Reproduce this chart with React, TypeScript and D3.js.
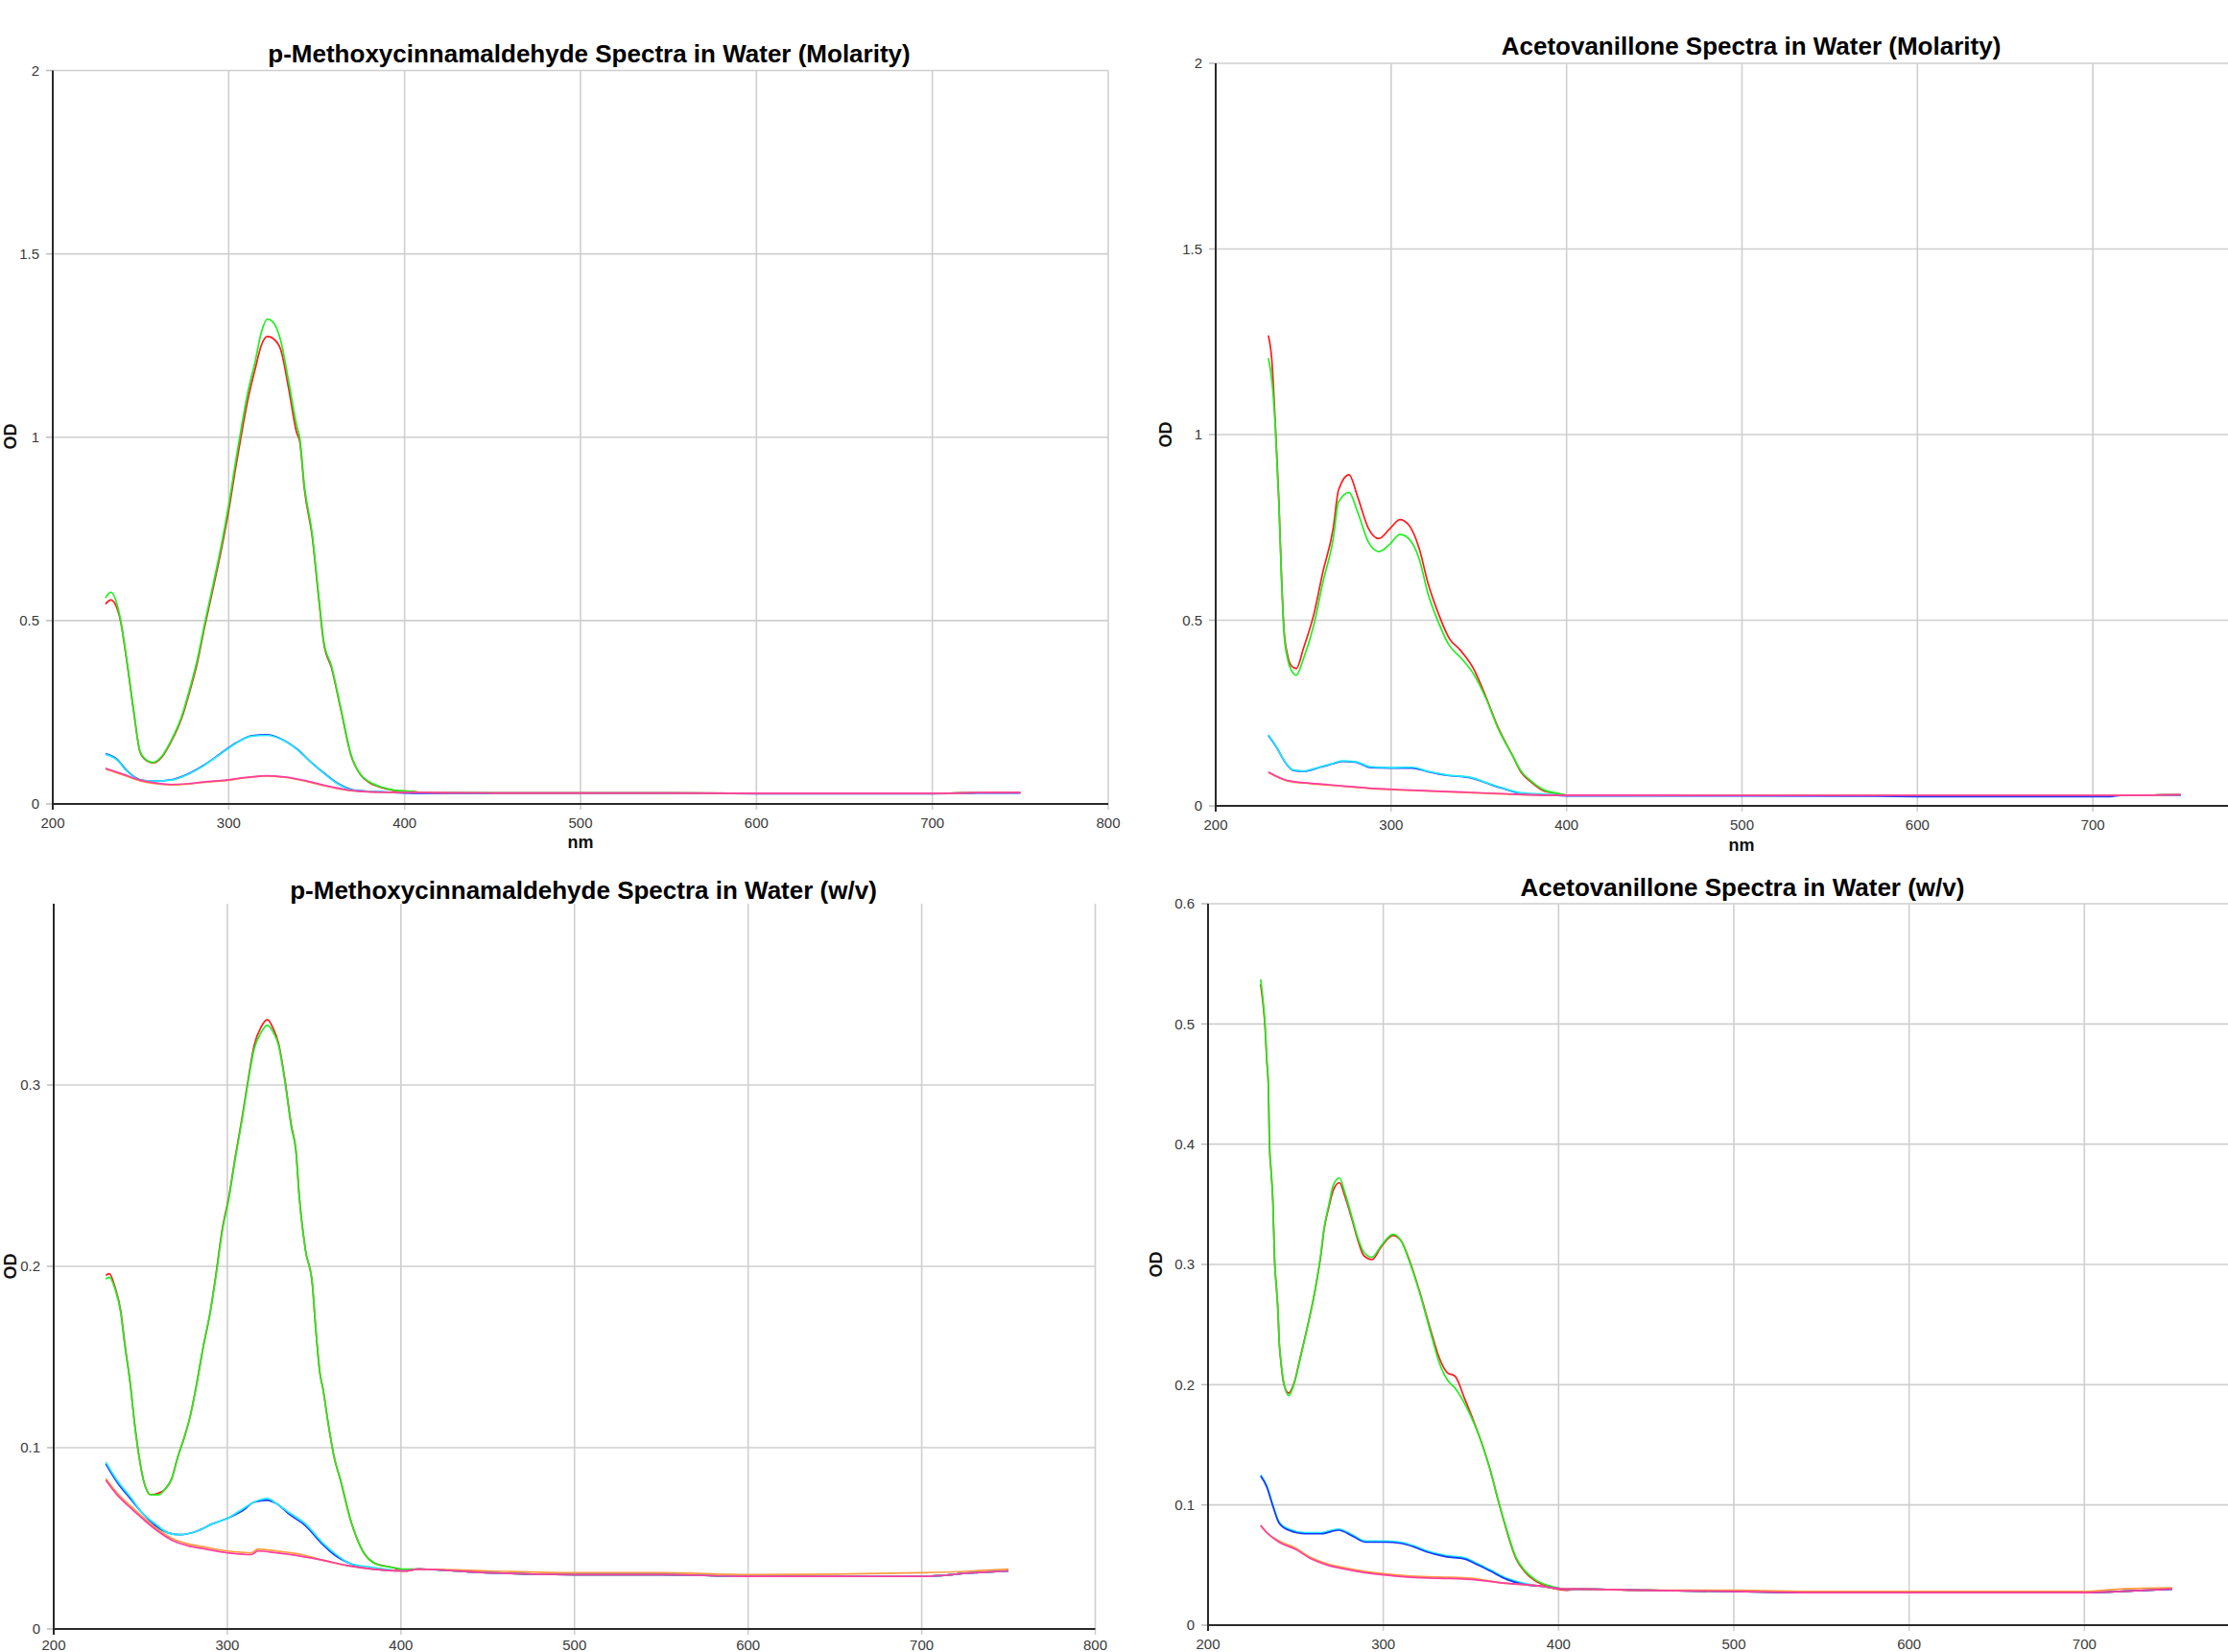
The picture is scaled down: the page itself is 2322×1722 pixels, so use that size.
import React from 'react';
import * as d3 from 'd3';

type Pt = [number, number];

// axis ticks
const xTicks = [200, 300, 400, 500, 600, 700, 800];
const yTicksMolar = [0, 0.5, 1, 1.5, 2];
const yTicksPmcWv = [0, 0.1, 0.2, 0.3];
const yTicksAvWv = [0, 0.1, 0.2, 0.3, 0.4, 0.5, 0.6];

// ---- p-Methoxycinnamaldehyde, molarity ----
const pmcMolTail: Pt[] = [[410, 0.031], [450, 0.030], [500, 0.030], [600, 0.029], [700, 0.029], [730, 0.031], [750, 0.031]];
const pmcMolBlueTail: Pt[] = [[410, 0.029], [450, 0.029], [500, 0.029], [600, 0.028], [700, 0.028], [730, 0.030], [750, 0.030]];
const pmcMolGreen: Pt[] = [[230, 0.562], [233, 0.577], [238, 0.515], [242, 0.395], [246, 0.255], [249.5, 0.145], [252, 0.125], [257, 0.113], [262, 0.13], [267.5, 0.175], [273, 0.235], [278.5, 0.325], [282, 0.39], [286.5, 0.495], [291, 0.595], [296, 0.71], [300, 0.815], [304, 0.935], [307.5, 1.035], [311, 1.125], [315, 1.205], [318.5, 1.285], [322, 1.322], [325, 1.315], [329.5, 1.265], [334, 1.155], [338.5, 1.035], [340.5, 0.995], [343, 0.87], [347.5, 0.735], [351, 0.575], [354, 0.445], [358.5, 0.375], [364, 0.255], [369.5, 0.135], [375, 0.08], [380, 0.06], [387.5, 0.045], [395, 0.037], [405, 0.034]];
const pmcMolRed: Pt[] = [[230, 0.545], [233, 0.556], [238, 0.51], [242, 0.392], [246, 0.252], [249.5, 0.143], [252, 0.123], [257, 0.112], [262, 0.128], [267.5, 0.172], [273, 0.23], [278.5, 0.318], [282, 0.382], [286.5, 0.487], [291, 0.585], [296, 0.698], [300, 0.8], [304, 0.918], [307.5, 1.015], [311, 1.105], [315, 1.185], [318.5, 1.25], [322, 1.275], [325, 1.27], [329.5, 1.24], [334, 1.135], [338.5, 1.015], [340.5, 0.985], [343, 0.86], [347.5, 0.728], [351, 0.57], [354, 0.44], [358.5, 0.37], [364, 0.252], [369.5, 0.133], [375, 0.079], [380, 0.058], [387.5, 0.044], [395, 0.036], [405, 0.034]];
const pmcMolCyan: Pt[] = [[230, 0.135], [236.5, 0.12], [242, 0.09], [249.5, 0.065], [257, 0.062], [267.5, 0.065], [276.5, 0.08], [286, 0.105], [295, 0.135], [304, 0.165], [313, 0.185], [322, 0.187], [329.5, 0.177], [338.5, 0.15], [347.5, 0.11], [355, 0.08], [362, 0.055], [371, 0.037], [386, 0.033]];
const pmcMolBlue: Pt[] = [[230, 0.137], [236.5, 0.122], [242, 0.091], [249.5, 0.066], [257, 0.062], [267.5, 0.066], [276.5, 0.081], [286, 0.106], [295, 0.136], [304, 0.166], [313, 0.186], [322, 0.189], [329.5, 0.178], [338.5, 0.151], [347.5, 0.111], [355, 0.081], [362, 0.056], [371, 0.038], [386, 0.033]];
const pmcMolOrange: Pt[] = [[230, 0.095], [240.5, 0.078], [249.5, 0.063], [258.5, 0.055], [267.5, 0.052], [276.5, 0.054], [286, 0.059], [298.5, 0.064], [311, 0.072], [322, 0.076], [333, 0.072], [344, 0.062], [355, 0.049], [369.5, 0.036], [386, 0.032]];
const pmcMolPink: Pt[] = [[230, 0.097], [240.5, 0.08], [249.5, 0.065], [258.5, 0.057], [267.5, 0.053], [276.5, 0.055], [286, 0.06], [298.5, 0.065], [311, 0.073], [322, 0.077], [333, 0.073], [344, 0.063], [355, 0.05], [369.5, 0.037], [386, 0.032]];

// ---- Acetovanillone, molarity ----
const avMolTail: Pt[] = [[400, 0.029], [500, 0.028], [600, 0.028], [700, 0.028], [735, 0.029], [750, 0.030]];
const avMolBlueTail: Pt[] = [[400, 0.027], [500, 0.027], [570, 0.026], [600, 0.025], [710, 0.025], [716, 0.028], [750, 0.029]];
const avMolRed: Pt[] = [[230, 1.267], [232, 1.2], [234, 1.026], [236, 0.822], [237.5, 0.619], [239, 0.47], [241, 0.405], [243, 0.378], [246, 0.37], [250, 0.424], [256, 0.517], [261, 0.628], [267, 0.748], [270, 0.85], [276, 0.892], [281, 0.831], [287, 0.748], [293, 0.72], [299.5, 0.748], [305, 0.771], [310, 0.757], [316, 0.693], [321, 0.6], [327, 0.517], [333, 0.452], [339.5, 0.419], [347, 0.369], [354, 0.294], [361, 0.211], [369, 0.137], [374, 0.091], [380, 0.063], [387, 0.04], [396, 0.032]];
const avMolGreen: Pt[] = [[230, 1.206], [232, 1.146], [234, 1.02], [236, 0.815], [237.5, 0.612], [239, 0.462], [241, 0.396], [243, 0.366], [246, 0.352], [250, 0.396], [256, 0.489], [261, 0.6], [267, 0.72], [270, 0.818], [276, 0.844], [281, 0.79], [287, 0.711], [293, 0.685], [299.5, 0.706], [305, 0.731], [310, 0.72], [316, 0.665], [321, 0.572], [327, 0.494], [333, 0.433], [339.5, 0.4], [347, 0.355], [354, 0.29], [361, 0.208], [369, 0.137], [374, 0.094], [380, 0.066], [387, 0.043], [396, 0.033]];
const avMolCyan: Pt[] = [[230, 0.191], [235, 0.156], [239.5, 0.119], [244, 0.097], [250, 0.094], [259.5, 0.105], [266.5, 0.114], [272, 0.121], [279.5, 0.119], [288.5, 0.105], [299.5, 0.103], [312, 0.104], [321, 0.093], [332, 0.083], [345, 0.077], [354, 0.063], [363, 0.049], [374, 0.035], [390, 0.031]];
const avMolBlue: Pt[] = [[230, 0.19], [235, 0.155], [239.5, 0.118], [244, 0.096], [250, 0.093], [259.5, 0.104], [266.5, 0.113], [272, 0.12], [279.5, 0.118], [288.5, 0.103], [299.5, 0.102], [312, 0.102], [321, 0.092], [332, 0.082], [345, 0.076], [354, 0.062], [363, 0.048], [374, 0.034], [390, 0.029]];
const avMolOrange: Pt[] = [[230, 0.09], [241, 0.067], [254, 0.06], [272, 0.053], [290, 0.046], [308.5, 0.042], [336, 0.037], [363, 0.032], [390, 0.029]];
const avMolPink: Pt[] = [[230, 0.091], [241, 0.068], [254, 0.061], [272, 0.054], [290, 0.047], [308.5, 0.043], [336, 0.038], [363, 0.033], [390, 0.029]];

// ---- p-Methoxycinnamaldehyde, w/v ----
const pmcWvTail: Pt[] = [[410, 0.033], [450, 0.031], [500, 0.030], [550, 0.030], [600, 0.029], [700, 0.029], [730, 0.031], [750, 0.032]];
const pmcWvOrangeTail: Pt[] = [[410, 0.033], [450, 0.032], [500, 0.031], [550, 0.031], [600, 0.030], [700, 0.031], [730, 0.032], [750, 0.033]];
const pmcWvGreen: Pt[] = [[230, 0.193], [232, 0.194], [235.5, 0.187], [238.5, 0.175], [241, 0.156], [244, 0.136], [246.5, 0.114], [249.5, 0.093], [252, 0.081], [256, 0.074], [260.5, 0.074], [264, 0.077], [268, 0.083], [271.5, 0.095], [275, 0.105], [279, 0.119], [282.5, 0.136], [286, 0.155], [290, 0.174], [293.5, 0.195], [297, 0.219], [301, 0.238], [304.5, 0.259], [308.5, 0.281], [312, 0.302], [315.5, 0.32], [319.5, 0.329], [323, 0.333], [326.5, 0.329], [329.5, 0.322], [333, 0.303], [337, 0.276], [339.5, 0.264], [341.5, 0.238], [345, 0.209], [349, 0.19], [350.5, 0.171], [353.5, 0.14], [355, 0.133], [358, 0.114], [361.5, 0.095], [365.5, 0.081], [371, 0.06], [378, 0.043], [385.5, 0.036], [395, 0.034], [402, 0.033]];
const pmcWvRed: Pt[] = [[230, 0.195], [232, 0.196], [235.5, 0.188], [238.5, 0.176], [241, 0.157], [244, 0.136], [246.5, 0.114], [249.5, 0.093], [252, 0.081], [256, 0.074], [260.5, 0.075], [264, 0.077], [268, 0.083], [271.5, 0.095], [275, 0.105], [279, 0.119], [282.5, 0.136], [286, 0.155], [290, 0.174], [293.5, 0.196], [297, 0.22], [301, 0.239], [304.5, 0.26], [308.5, 0.282], [312, 0.303], [315.5, 0.322], [319.5, 0.332], [323, 0.336], [326.5, 0.331], [329.5, 0.323], [333, 0.304], [337, 0.277], [339.5, 0.264], [341.5, 0.238], [345, 0.209], [349, 0.19], [350.5, 0.171], [353.5, 0.14], [355, 0.133], [358, 0.114], [361.5, 0.095], [365.5, 0.081], [371, 0.06], [378, 0.043], [385.5, 0.036], [395, 0.034], [402, 0.032]];
const pmcWvCyan: Pt[] = [[230, 0.092], [236.5, 0.082], [244, 0.073], [251, 0.064], [258.5, 0.058], [266, 0.053], [273, 0.052], [282.5, 0.054], [291.5, 0.058], [300, 0.061], [308.5, 0.066], [315.5, 0.07], [323, 0.072], [328.5, 0.069], [336, 0.064], [345, 0.058], [354.5, 0.048], [361.5, 0.042], [371, 0.036], [384, 0.034], [402, 0.032]];
const pmcWvBlue: Pt[] = [[230, 0.091], [236.5, 0.081], [244, 0.072], [251, 0.064], [258.5, 0.057], [266, 0.053], [273, 0.052], [282.5, 0.054], [291.5, 0.058], [300, 0.061], [308.5, 0.065], [315.5, 0.07], [323, 0.071], [328.5, 0.069], [336, 0.063], [345, 0.057], [354.5, 0.047], [361.5, 0.041], [371, 0.036], [384, 0.033], [402, 0.032]];
const pmcWvOrange: Pt[] = [[230, 0.083], [236.5, 0.075], [244, 0.068], [251, 0.062], [258.5, 0.056], [268, 0.05], [277, 0.047], [288, 0.045], [300, 0.043], [314, 0.042], [317.5, 0.044], [328.5, 0.043], [343, 0.041], [354.5, 0.038], [369, 0.035], [384, 0.033], [402, 0.032]];
const pmcWvPink: Pt[] = [[230, 0.082], [236.5, 0.074], [244, 0.067], [251, 0.061], [258.5, 0.055], [268, 0.049], [277, 0.046], [288, 0.044], [300, 0.042], [314, 0.041], [317.5, 0.043], [328.5, 0.042], [343, 0.04], [354.5, 0.038], [369, 0.035], [384, 0.033], [402, 0.032]];

// ---- Acetovanillone, w/v ----
const avWvTail: Pt[] = [[410, 0.030], [450, 0.029], [500, 0.028], [550, 0.027], [600, 0.027], [700, 0.027], [720, 0.028], [750, 0.030]];
const avWvOrangeTail: Pt[] = [[410, 0.030], [450, 0.029], [500, 0.029], [550, 0.028], [600, 0.028], [700, 0.028], [720, 0.030], [750, 0.031]];
const avWvGreen: Pt[] = [[230, 0.537], [231.5, 0.518], [232.5, 0.5], [233.5, 0.471], [234.5, 0.446], [235, 0.403], [236, 0.378], [237, 0.353], [238, 0.303], [239, 0.282], [240, 0.259], [240.5, 0.239], [241.5, 0.221], [243.5, 0.2], [246, 0.191], [249, 0.2], [252.5, 0.221], [257, 0.25], [261, 0.278], [264.5, 0.31], [266, 0.328], [269, 0.35], [271.5, 0.366], [275, 0.372], [278, 0.36], [282, 0.34], [285.5, 0.322], [289, 0.31], [293.5, 0.306], [299, 0.316], [305.5, 0.325], [310, 0.32], [315.5, 0.3], [321, 0.275], [326.5, 0.246], [332, 0.218], [336.5, 0.204], [341, 0.197], [346.5, 0.184], [352, 0.167], [356.5, 0.15], [361, 0.129], [365.5, 0.104], [370.5, 0.079], [375.5, 0.057], [381, 0.045], [386.5, 0.038], [394, 0.033], [405, 0.030]];
const avWvRed: Pt[] = [[230, 0.533], [231.5, 0.515], [232.5, 0.498], [233.5, 0.47], [234.5, 0.445], [235, 0.402], [236, 0.377], [237, 0.352], [238, 0.302], [239, 0.281], [240, 0.258], [240.5, 0.238], [241.5, 0.22], [243.5, 0.199], [246, 0.193], [249, 0.201], [252.5, 0.222], [257, 0.25], [261, 0.278], [264.5, 0.309], [266, 0.327], [269, 0.348], [271.5, 0.362], [275, 0.368], [278, 0.357], [282, 0.338], [285.5, 0.32], [289, 0.307], [293.5, 0.304], [299, 0.315], [305.5, 0.324], [310, 0.32], [315.5, 0.301], [321, 0.276], [326.5, 0.248], [332, 0.222], [336.5, 0.21], [341, 0.207], [346.5, 0.188], [352, 0.168], [356.5, 0.15], [361, 0.129], [365.5, 0.104], [370.5, 0.078], [375.5, 0.056], [381, 0.044], [386.5, 0.037], [394, 0.032], [405, 0.029]];
const avWvCyan: Pt[] = [[230, 0.125], [233.5, 0.116], [237, 0.1], [240.5, 0.086], [246, 0.08], [255.5, 0.077], [264.5, 0.077], [274.5, 0.08], [282.5, 0.075], [290, 0.07], [301, 0.07], [310, 0.069], [317.5, 0.066], [324.5, 0.062], [335.5, 0.058], [346.5, 0.056], [354, 0.051], [361, 0.046], [370.5, 0.039], [379.5, 0.035], [392, 0.032], [405, 0.030]];
const avWvBlue: Pt[] = [[230, 0.124], [233.5, 0.115], [237, 0.099], [240.5, 0.085], [246, 0.079], [255.5, 0.076], [264.5, 0.076], [274.5, 0.079], [282.5, 0.074], [290, 0.069], [301, 0.069], [310, 0.068], [317.5, 0.065], [324.5, 0.061], [335.5, 0.057], [346.5, 0.055], [354, 0.05], [361, 0.045], [370.5, 0.038], [379.5, 0.034], [392, 0.032], [405, 0.030]];
const avWvOrange: Pt[] = [[230, 0.083], [233.5, 0.077], [240.5, 0.07], [250, 0.064], [259, 0.056], [268, 0.051], [277, 0.048], [288, 0.045], [299, 0.043], [313.5, 0.041], [332, 0.04], [350, 0.039], [368.5, 0.035], [386.5, 0.033], [405, 0.030]];
const avWvPink: Pt[] = [[230, 0.083], [233.5, 0.077], [240.5, 0.069], [250, 0.063], [259, 0.055], [268, 0.05], [277, 0.047], [288, 0.044], [299, 0.042], [313.5, 0.04], [332, 0.039], [350, 0.038], [368.5, 0.035], [386.5, 0.033], [405, 0.030]];

const colors = {
  red: '#ff1a1a',
  green: '#1ef01e',
  blue: '#1438ff',
  cyan: '#20e8ff',
  orange: '#ff9a3c',
  pink: '#ff3d9e',
};

const FONT = '"Liberation Sans", Arial, sans-serif';
const W = 2322;
const H = 1722;

type Series = { color: string; pts: Pt[] };

type PanelDef = {
  title: string;
  titleX: number;
  titleY: number;
  left: number;
  right: number;
  top: number;
  bottom: number;
  yMax: number;
  yTicks: number[];
  topLine: boolean;
  nm: [number, number] | null;
  od: [number, number];
  series: Series[];
};

const panels: PanelDef[] = [
  {
    title: 'p-Methoxycinnamaldehyde Spectra in Water (Molarity)',
    titleX: 614, titleY: 65,
    left: 55, right: 1155, top: 73.5, bottom: 838,
    yMax: 2, yTicks: yTicksMolar, topLine: true,
    nm: [605, 884], od: [11, 455],
    series: [
      { color: colors.red, pts: pmcMolRed.concat(pmcMolTail) },
      { color: colors.green, pts: pmcMolGreen.concat(pmcMolTail) },
      { color: colors.blue, pts: pmcMolBlue.concat(pmcMolBlueTail) },
      { color: colors.cyan, pts: pmcMolCyan.concat(pmcMolTail) },
      { color: colors.orange, pts: pmcMolOrange.concat(pmcMolTail) },
      { color: colors.pink, pts: pmcMolPink.concat(pmcMolTail) },
    ],
  },
  {
    title: 'Acetovanillone Spectra in Water (Molarity)',
    titleX: 1825, titleY: 57,
    left: 1267, right: 2364, top: 66, bottom: 840,
    yMax: 2, yTicks: yTicksMolar, topLine: true,
    nm: [1815, 887], od: [1215, 453],
    series: [
      { color: colors.red, pts: avMolRed.concat(avMolTail) },
      { color: colors.green, pts: avMolGreen.concat(avMolTail) },
      { color: colors.blue, pts: avMolBlue.concat(avMolBlueTail) },
      { color: colors.cyan, pts: avMolCyan.concat(avMolTail) },
      { color: colors.orange, pts: avMolOrange.concat(avMolTail) },
      { color: colors.pink, pts: avMolPink.concat(avMolTail) },
    ],
  },
  {
    title: 'p-Methoxycinnamaldehyde Spectra in Water (w/v)',
    titleX: 608, titleY: 937,
    left: 56, right: 1141.5, top: 942, bottom: 1698,
    yMax: 0.4, yTicks: yTicksPmcWv, topLine: false,
    nm: null, od: [11, 1320],
    series: [
      { color: colors.red, pts: pmcWvRed.concat(pmcWvTail) },
      { color: colors.green, pts: pmcWvGreen.concat(pmcWvTail) },
      { color: colors.blue, pts: pmcWvBlue.concat(pmcWvTail) },
      { color: colors.cyan, pts: pmcWvCyan.concat(pmcWvTail) },
      { color: colors.orange, pts: pmcWvOrange.concat(pmcWvOrangeTail) },
      { color: colors.pink, pts: pmcWvPink.concat(pmcWvTail) },
    ],
  },
  {
    title: 'Acetovanillone Spectra in Water (w/v)',
    titleX: 1816, titleY: 934,
    left: 1259, right: 2355, top: 942, bottom: 1694,
    yMax: 0.6, yTicks: yTicksAvWv, topLine: true,
    nm: null, od: [1205, 1318],
    series: [
      { color: colors.red, pts: avWvRed.concat(avWvTail) },
      { color: colors.green, pts: avWvGreen.concat(avWvTail) },
      { color: colors.cyan, pts: avWvCyan.concat(avWvTail) },
      { color: colors.blue, pts: avWvBlue.concat(avWvTail) },
      { color: colors.orange, pts: avWvOrange.concat(avWvOrangeTail) },
      { color: colors.pink, pts: avWvPink.concat(avWvTail) },
    ],
  },
];

function Panel({ p }: { p: PanelDef }) {
  const x = d3.scaleLinear().domain([200, 800]).range([p.left, p.right]);
  const y = d3.scaleLinear().domain([0, p.yMax]).range([p.bottom, p.top]);
  const line = d3.line<Pt>()
    .x(d => x(d[0]))
    .y(d => y(d[1]))
    .curve(d3.curveMonotoneX);

  const hLines = p.yTicks.filter(t => t > 0 && (p.topLine || t < p.yMax));
  const xLabelY = Math.min(p.bottom + 25, H - 2);
  const shownX = xTicks.filter(t => x(t) + 14 <= W);

  return (
    <g>
      {/* grid */}
      {hLines.map(t => (
        <line key={'h' + t} x1={p.left} x2={p.right} y1={y(t)} y2={y(t)} stroke="#cfcfcf" strokeWidth={1.6} />
      ))}
      {xTicks.filter(t => t > 200).map(t => (
        <line key={'v' + t} x1={x(t)} x2={x(t)} y1={p.top} y2={p.bottom + 6} stroke="#cfcfcf" strokeWidth={1.6} />
      ))}
      {/* y ticks */}
      {p.yTicks.map(t => (
        <g key={'yt' + t}>
          <line x1={p.left - 7} x2={p.left} y1={y(t)} y2={y(t)} stroke="#bbb" strokeWidth={1.5} />
          <text x={p.left - 14} y={y(t)} dy="0.35em" textAnchor="end" fontSize={15} fill="#3a3a3a" fontFamily={FONT}>{t}</text>
        </g>
      ))}
      {/* x ticks */}
      {shownX.map(t => (
        <text key={'xt' + t} x={x(t)} y={xLabelY} textAnchor="middle" fontSize={15} fill="#3a3a3a" fontFamily={FONT}>{t}</text>
      ))}
      {/* series */}
      {p.series.map((s, i) => (
        <path key={i} d={line(s.pts) || ''} fill="none" stroke={s.color} strokeWidth={1.7} strokeLinejoin="round" />
      ))}
      {/* axes */}
      <line x1={p.left} x2={p.left} y1={p.top} y2={p.bottom + 6} stroke="#2a2a2a" strokeWidth={2} />
      <line x1={p.left} x2={x(800)} y1={p.bottom} y2={p.bottom} stroke="#2a2a2a" strokeWidth={2.2} />
      {/* labels */}
      <text x={p.titleX} y={p.titleY} textAnchor="middle" fontSize={26} fontWeight="bold" fill="#000" fontFamily={FONT}>{p.title}</text>
      {p.nm && (
        <text x={p.nm[0]} y={p.nm[1]} textAnchor="middle" fontSize={18} fontWeight="bold" fill="#111" fontFamily={FONT}>nm</text>
      )}
      <text transform={`translate(${p.od[0]},${p.od[1]}) rotate(-90)`} textAnchor="middle" dy="0.35em" fontSize={18} fontWeight="bold" fill="#111" fontFamily={FONT}>OD</text>
    </g>
  );
}

export default function App() {
  return (
    <svg width={W} height={H} style={{ position: 'absolute', left: 0, top: 0, background: '#fff' }}>
      <rect x={0} y={0} width={W} height={H} fill="#fff" />
      {panels.map((p, i) => <Panel key={i} p={p} />)}
    </svg>
  );
}
